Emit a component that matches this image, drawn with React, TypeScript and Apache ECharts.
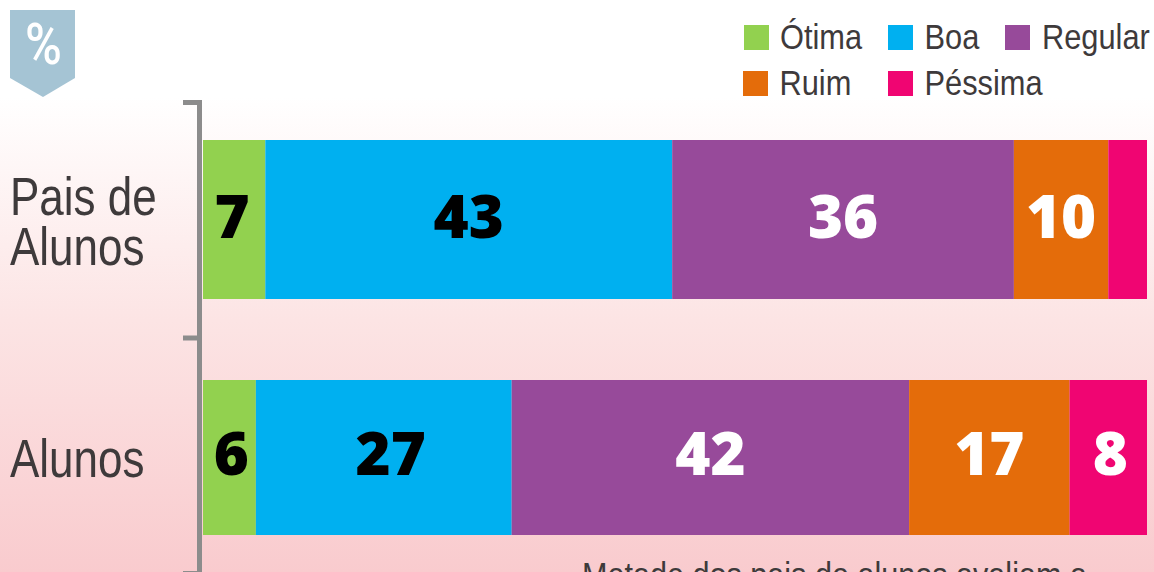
import React, { useEffect, useRef } from "react";
import * as echarts from "echarts";

const ratings = ["Ótima", "Boa", "Regular", "Ruim", "Péssima"];
const ratingColors = ["#92d14f", "#00b0f0", "#974a9a", "#e46c0a", "#f00572"];
const labelColors = ["#000000", "#000000", "#ffffff", "#ffffff", "#ffffff"];
const paisValues = [6.6, 43.1, 36.2, 10, 4.1];
const paisLabels = ["7", "43", "36", "10", ""];
const alunosValues = [5.6, 27.1, 42.1, 17, 8.2];
const alunosLabels = ["6", "27", "42", "17", "8"];
const groupNames = ["Pais de\nAlunos", "Alunos"];
const note = "Metade dos pais de alunos avaliam a";

const FONT = "'Liberation Sans', Arial, sans-serif";
const legendPos = [
  [744, 25],
  [888, 25],
  [1005, 25],
  [743, 71],
  [888, 71],
];
const legendTextPos = [
  [780, 36.5],
  [924.5, 36.5],
  [1042, 36.5],
  [779.5, 83],
  [924.5, 83],
];
const paisLabelShift = [-2, 0, 0, 0, 0];
const alunosLabelShift = [2, 7, 0, 0, 2];

export default function App() {
  const ref = useRef<HTMLDivElement>(null);
  useEffect(() => {
    const chart = echarts.init(ref.current!, undefined, { renderer: "svg" });
    const makeSeries = (
      values: number[],
      labels: string[],
      shift: number[],
      dy: number,
      gridIndex: number
    ) =>
      values.map((v, i) => ({
        type: "bar",
        name: ratings[i],
        stack: "g" + gridIndex,
        xAxisIndex: gridIndex,
        yAxisIndex: gridIndex,
        barWidth: "100%",
        data: [v],
        itemStyle: { color: ratingColors[i] },
        label: {
          show: labels[i] !== "",
          position: "inside",
          formatter: () => labels[i],
          color: labelColors[i],
          fontFamily: "'Open Sans', sans-serif",
          fontWeight: 800,
          fontSize: 60,
          offset: [shift[i], dy],
        },
      }));
    chart.setOption({
      animation: false,
      backgroundColor: new echarts.graphic.LinearGradient(0, 0, 0, 1, [
        { offset: 0, color: "#ffffff" },
        { offset: 0.17, color: "#ffffff" },
        { offset: 0.56, color: "#fce4e4" },
        { offset: 1, color: "#f9cbce" },
      ]),
      grid: [
        { left: 203, top: 140, width: 944, height: 159 },
        { left: 203, top: 380, width: 944, height: 155 },
      ],
      xAxis: [0, 1].map((g) => ({
        type: "value",
        gridIndex: g,
        min: 0,
        max: 100,
        show: false,
      })),
      yAxis: [0, 1].map((g) => ({
        type: "category",
        gridIndex: g,
        data: [groupNames[g]],
        axisLine: { show: false },
        axisTick: { show: false },
        axisLabel: { show: false },
      })),
      legend: ratings.map((r, i) => ({
        data: [r],
        left: legendPos[i][0],
        top: legendPos[i][1],
        padding: 0,
        itemWidth: 25,
        itemHeight: 25,
        icon: "rect",
        selectedMode: false,
        formatter: () => "",
      })),
      series: [
        ...makeSeries(paisValues, paisLabels, paisLabelShift, -5, 0),
        ...makeSeries(alunosValues, alunosLabels, alunosLabelShift, -6, 1),
      ],
      graphic: [
        {
          type: "polygon",
          shape: { points: [[10, 10], [75, 10], [75, 78], [43, 97], [10, 78]] },
          style: { fill: "#a5c4d4" },
        },
        {
          type: "text",
          x: 43.5,
          y: 44,
          scaleX: 0.88,
          style: {
            text: "%",
            fill: "#ffffff",
            fontFamily: "Roboto, sans-serif",
            fontWeight: 500,
            fontSize: 57,
            align: "center",
            verticalAlign: "middle",
          },
        },
        {
          type: "polyline",
          shape: { points: [[183, 102.5], [199.5, 102.5], [199.5, 580]] },
          style: { stroke: "#8c8c8c", lineWidth: 5, fill: "none" },
        },
        {
          type: "line",
          shape: { x1: 183, y1: 338, x2: 199, y2: 338 },
          style: { stroke: "#8c8c8c", lineWidth: 5 },
        },
        {
          type: "line",
          shape: { x1: 183, y1: 573.5, x2: 199, y2: 573.5 },
          style: { stroke: "#8c8c8c", lineWidth: 5 },
        },
        ...ratings.map((r, i) => ({
          type: "text",
          x: legendTextPos[i][0],
          y: legendTextPos[i][1],
          scaleX: 0.88,
          style: {
            text: r,
            fill: "#3e3a3b",
            fontFamily: FONT,
            fontSize: 35,
            align: "left",
            verticalAlign: "middle",
          },
        })),
        ...groupNames.map((g, i) => ({
          type: "text",
          x: 10,
          y: i === 0 ? 221 : 459,
          scaleX: 0.83,
          style: {
            text: g,
            fill: "#3e3a3b",
            fontFamily: FONT,
            fontSize: 53,
            lineHeight: 50,
            align: "left",
            verticalAlign: "middle",
          },
        })),
        {
          type: "text",
          x: 582,
          y: 557,
          scaleX: 0.85,
          style: {
            text: note,
            fill: "#3e3a3b",
            fontFamily: FONT,
            fontSize: 36,
            align: "left",
            verticalAlign: "top",
          },
        },
      ],
    });
    return () => chart.dispose();
  }, []);
  return (
    <div
      ref={ref}
      style={{ position: "fixed", left: 0, top: 0, width: 1154, height: 572 }}
    />
  );
}
